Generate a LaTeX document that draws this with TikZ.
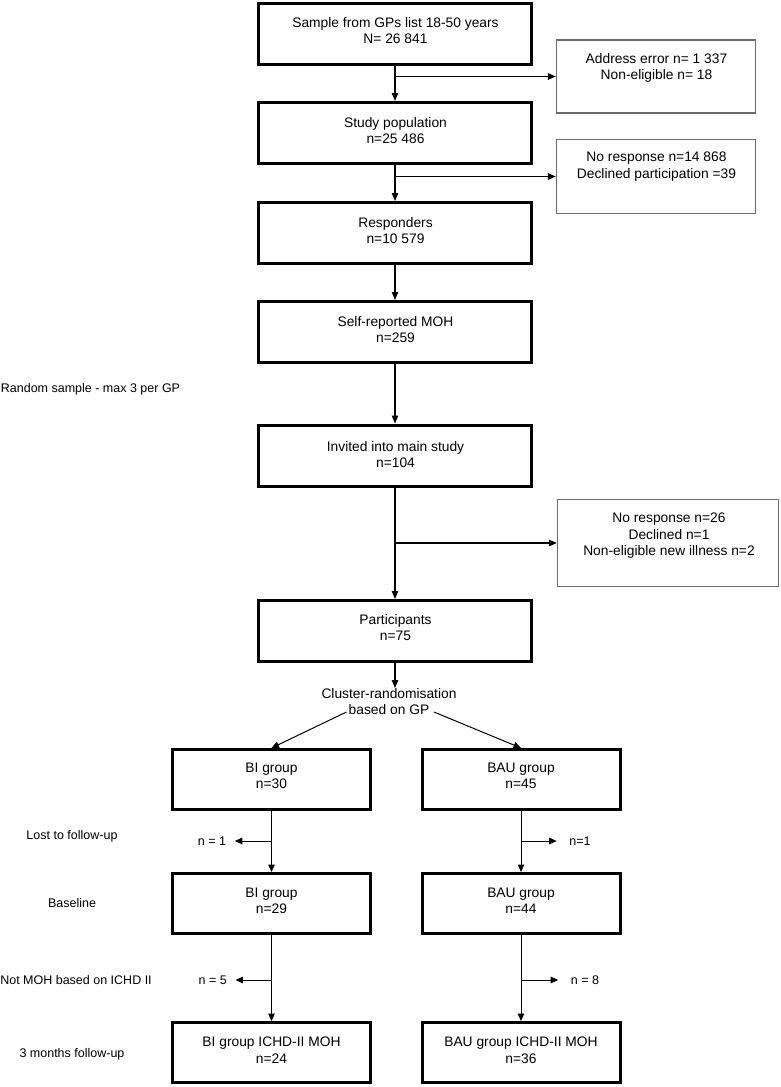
\documentclass[tikz,border=0pt]{standalone}
\usepackage{fontspec}
\setmainfont{Liberation Sans}
\usetikzlibrary{arrows.meta}
\begin{document}
\begin{tikzpicture}[x=1pt,y=-1pt,
 mainbox/.style={draw=black,line width=3pt,minimum width=273pt,minimum height=61pt,inner sep=0pt},
 subbox/.style={draw=black,line width=3pt,minimum width=198pt,minimum height=60pt,inner sep=0pt},
 sidebox/.style={draw=black!58,line width=1.3pt,inner sep=0pt},
 boxtext/.style={font=\fontsize{13.8}{16.2}\selectfont,align=center,anchor=north,inner sep=0pt},
 lbl/.style={font=\fontsize{12.5}{15}\selectfont,anchor=base,inner sep=0pt},
 nleft/.style={font=\fontsize{12.5}{15}\selectfont,inner ysep=0pt,inner xsep=8.5pt},
 nright/.style={font=\fontsize{12.5}{15}\selectfont,inner ysep=0pt,inner xsep=12.5pt},
 arr/.style={line width=1.25pt,-{Triangle[length=8pt,width=6.5pt]}},
 arrlow/.style={line width=1pt,-{Triangle[length=7.5pt,width=6.5pt]}},
]
\useasboundingbox (0,0) rectangle (781,1087);

% main column
\node[mainbox] (b1) at (395,34) {};
\node[boxtext] (t1) at (395.5,17) {Sample from GPs list 18-50 years\\N= 26 841};
\node[mainbox] (b2) at (395,133) {};
\node[boxtext] (t2) at (395.5,117) {Study population\\n=25 486};
\node[mainbox] (b3) at (395,233) {};
\node[boxtext] (t3) at (395.5,217) {Responders\\n=10 579};
\node[mainbox] (b4) at (395,332) {};
\node[boxtext] (t4) at (395.5,316) {Self-reported MOH\\n=259};
\node[mainbox] (b5) at (395,455.5) {};
\node[boxtext] (t5) at (395.5,441) {Invited into main study\\n=104};
\node[mainbox] (b6) at (395,631) {};
\node[boxtext] (t6) at (395.5,614) {Participants\\n=75};

% side boxes
\node[sidebox,minimum width=199pt,minimum height=73pt] (s1) at (656,76.5) {};
\node[boxtext] (ts1) at (656.5,53) {Address error n= 1 337\\Non-eligible n= 18};
\node[sidebox,minimum width=199pt,minimum height=74pt] (s2) at (656,176.5) {};
\node[boxtext] (ts2) at (656.5,152) {No response n=14 868\\Declined participation =39};
\node[sidebox,minimum width=221pt,minimum height=87pt] (s3) at (668,543) {};
\node[boxtext] (ts3) at (669,513) {No response n=26\\Declined n=1\\Non-eligible new illness n=2};

% cluster randomisation
\node[boxtext] (cr) at (389,688) {Cluster-randomisation\\based on GP};
\coordinate (crl) at (346.5,712);
\coordinate (crr) at (434,712);

% lower boxes
\node[subbox] (b7) at (271.5,779.5) {};
\node[boxtext] (t7) at (271.5,763) {BI group\\n=30};
\node[subbox] (b8) at (521,779.5) {};
\node[boxtext] (t8) at (521,763) {BAU group\\n=45};
\node[subbox] (b9) at (271.5,903.5) {};
\node[boxtext] (t9) at (271.5,888) {BI group\\n=29};
\node[subbox] (b10) at (521,903.5) {};
\node[boxtext] (t10) at (521,888) {BAU group\\n=44};
\node[subbox] (b11) at (271.5,1052.5) {};
\node[boxtext] (t11) at (271.5,1037) {BI group ICHD-II MOH\\n=24};
\node[subbox] (b12) at (521,1052.5) {};
\node[boxtext] (t12) at (521,1037) {BAU group ICHD-II MOH\\n=36};

% left labels
\node[lbl] (l1) at (90.5,392.5) {Random sample - max 3 per GP};
\node[lbl] (l2) at (72,839.5) {Lost to follow-up};
\node[lbl] (l3) at (72,907.5) {Baseline};
\node[lbl] (l4) at (76,984.5) {Not MOH based on ICHD II};
\node[lbl] (l5) at (72,1057.5) {3 months follow-up};

% small exclusion labels
\node[nleft] (n1) at (212,841) {n = 1};
\node[nright] (n2) at (580,841) {n=1};
\node[nleft] (n3) at (212.7,980) {n = 5};
\node[nright] (n4) at (585,980) {n = 8};

% connectors
\draw[arr] (b1) -- (b2);
\draw[arr] (b2) -- (b3);
\draw[arr] (b3) -- (b4);
\draw[arr] (b4) -- (b5);
\draw[arr] (b5) -- (b6);
\draw[arr] (b1.south |- s1.west) -- (s1.west);
\draw[arr] (b2.south |- s2.west) -- (s2.west);
\draw[arr] (b5.south |- s3.west) -- (s3.west);
\draw[arr] (b6) -- (b6.south |- cr.north);
\draw[arrlow] (crl) -- (b7.north);
\draw[arrlow] (crr) -- (b8.north);
\draw[arrlow] (b7) -- (b9);
\draw[arrlow] (b8) -- (b10);
\draw[arrlow] (b9) -- (b11);
\draw[arrlow] (b10) -- (b12);
\draw[arrlow] (b7.south |- n1.east) -- (n1.east);
\draw[arrlow] (b8.south |- n2.west) -- (n2.west);
\draw[arrlow] (b9.south |- n3.east) -- (n3.east);
\draw[arrlow] (b10.south |- n4.west) -- (n4.west);
\end{tikzpicture}
\end{document}
